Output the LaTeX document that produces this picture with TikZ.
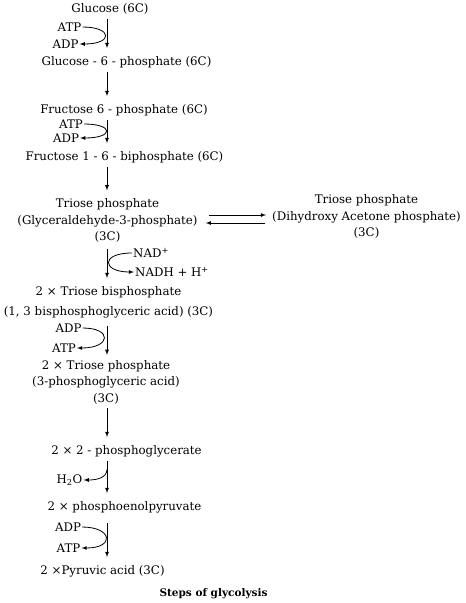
\documentclass[tikz,border=0pt]{standalone}
\usepackage{fontspec}
\setmainfont{DejaVu Serif}
\usetikzlibrary{arrows}
\usetikzlibrary{calc}

\begin{document}
\begin{tikzpicture}[x=1pt,y=-1pt]
              \tikzstyle{comp} = [inner sep=0pt, align=center, font=\fontsize{11.8}{16.5}\selectfont]
              \tikzstyle{cof} = [inner sep=1pt, font=\fontsize{11.8}{14}\selectfont]
              \tikzstyle{flow} = [->, >=latex, thick, shorten <=4pt, shorten >=8pt]
              \useasboundingbox (0,0) rectangle (466,603);
              \coordinate (ax) at (107,0);
              \node (glc) [comp] at (110,9) {Glucose (6C)};
              \node (gsp) [comp] at (126.5,62) {Glucose - 6 - phosphate (6C)};
              \node (fsp) [comp] at (124,110) {Fructose 6 - phosphate (6C)};
              \node (fbp) [comp] at (124.5,157) {Fructose 1 - 6 - biphosphate (6C)};
              \node (tp) [comp] at (107.5,220.5) {Triose phosphate\\(Glyceraldehyde-3-phosphate)\\(3C)};
              \node (dhap) [comp] at (366.5,216.5) {Triose phosphate\\(Dihydroxy Acetone phosphate)\\(3C)};
              \node (tbp) [comp] at (108.5,302) {2 × Triose bisphosphate\\[3.5pt](1, 3 bisphosphoglyceric acid) (3C)};
              \node (tpg) [comp] at (106,382) {2 × Triose phosphate\\(3-phosphoglyceric acid)\\(3C)};
              \node (pg) [comp] at (126.5,451) {2 × 2 - phosphoglycerate};
              \node (pep) [comp] at (124.5,507) {2 × phosphoenolpyruvate};
              \node (pyr) [comp] at (102.5,571) {2 ×Pyruvic acid (3C)};
              \node (cap) [comp, font=\fontsize{10.5}{12}\selectfont\bfseries] at (213.5,594) {Steps of glycolysis};
              % cofactors
              \node (atpi) [cof] at (69.5,27) {ATP};
              \node (adpi) [cof] at (65.5,44) {ADP};
              \node (atpii) [cof] at (71,124) {ATP};
              \node (adpii) [cof] at (66,138) {ADP};
              \node (nad) [cof, anchor=west] at (132,253) {NAD\textsuperscript{+}};
              \node (nadh) [cof, anchor=west] at (134,272) {NADH + H\textsuperscript{+}};
              \node (adpiii) [cof] at (68.5,328) {ADP};
              \node (atpiii) [cof] at (64,348) {ATP};
              \node (h2o) [cof] at (69.5,480) {H\textsubscript{2}O};
              \node (adpiv) [cof] at (68,527) {ADP};
              \node (atpiv) [cof] at (68.5,548) {ATP};
              % main steps
              \draw[flow] (glc.south -| ax) -- (gsp.north -| ax);
              \draw[flow] (gsp.south -| ax) -- (fsp.north -| ax);
              \draw[flow] (fsp.south -| ax) -- (fbp.north -| ax);
              \draw[flow] (fbp.south -| ax) -- (tp.north -| ax);
              \draw[flow, shorten <=6pt] (tp.south -| ax) -- (tbp.north -| ax);
              \draw[flow, shorten <=8pt, shorten >=5pt] (tbp.south -| ax) -- (tpg.north -| ax);
              \draw[flow] (tpg.south -| ax) -- (pg.north -| ax);
              \draw[flow] (pg.south -| ax) -- coordinate[pos=0.28] (wbr) (pep.north -| ax);
              \draw[flow, shorten <=10pt] (pep.south -| ax) -- (pyr.north -| ax);
              \draw[->, >=latex, thick] ($(tp.east)+(11,-5.5)$) -- ($(tp.east -| dhap.west)+(-6,-5.5)$);
              \draw[->, >=latex, thick] ($(tp.east -| dhap.west)+(-7,2.5)$) -- ($(tp.east)+(8,2.5)$);
              % side reactions
              \draw[->, >=latex, thick] (atpi.east) .. controls +(30,0) and +(34,0) .. (adpi.east);
              \draw[->, >=latex, thick] (atpii.east) .. controls +(30,0) and +(34,0) .. (adpii.east);
              \draw[->, >=latex, thick] (nad.west) .. controls +(-32,0) and +(-32,0) .. (nadh.west);
              \draw[->, >=latex, thick] (adpiii.east) .. controls +(30,0) and +(34,0) .. (atpiii.east);
              \draw[->, >=latex, thick] (wbr) .. controls +(0,9) and +(12,0) .. (h2o.east);
              \draw[->, >=latex, thick] (adpiv.east) .. controls +(30,0) and +(34,0) .. (atpiv.east);
            \end{tikzpicture}
\end{document}
